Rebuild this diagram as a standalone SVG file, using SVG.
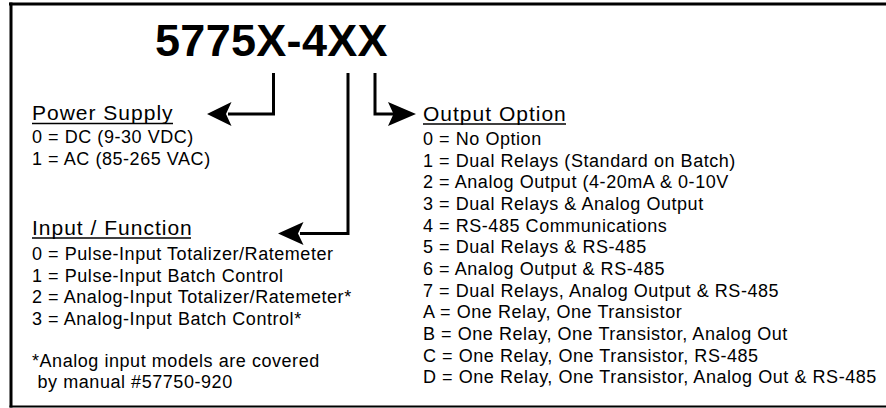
<svg xmlns="http://www.w3.org/2000/svg" width="886" height="408" viewBox="0 0 886 408">
  <style>
    text { font-family: "Liberation Sans", Arial, Helvetica, sans-serif; fill: #000; }
    .title { font-size: 45px; font-weight: bold; letter-spacing: 0.3px; }
    .head { font-size: 21px; letter-spacing: 1px; }
    .item { font-size: 18px; letter-spacing: 0.55px; }
    .uline { stroke: #000; stroke-width: 1.3; }
    .conn { fill: none; stroke: #000; stroke-width: 3; stroke-linejoin: miter; stroke-linecap: butt; }
    .head-arrow { fill: #000; stroke: none; }
    .frame { stroke: #000; fill: none; }
  </style>

  <rect x="0" y="0" width="886" height="408" fill="#fff"/>

  <g id="frame">
    <line class="frame" x1="9" y1="4" x2="886" y2="4" stroke-width="3"/>
    <line class="frame" x1="11" y1="2.5" x2="11" y2="407.5" stroke-width="3"/>
    <line class="frame" x1="9.5" y1="406.5" x2="886" y2="406.5" stroke-width="2"/>
  </g>

  <g id="title">
    <text class="title" x="155" y="56">5775X-4XX</text>
  </g>

  <g id="connectors">
    <path class="conn" d="M273.5 73 V114 H228"/>
    <path class="head-arrow" d="M207 114 L231.5 102 L226 114 L231.5 126 Z"/>
    <path class="conn" d="M348 73 V233.5 H300"/>
    <path class="head-arrow" d="M278 233.5 L303.5 222 L298 233.5 L303.5 245 Z"/>
    <path class="conn" d="M375 73 V114 H394"/>
    <path class="head-arrow" d="M416 114 L388 102 L393.5 114 L388 126 Z"/>
  </g>

  <g id="power-supply">
    <text class="head" x="32" y="120">Power Supply</text>
    <line class="uline" x1="32" y1="123.5" x2="173" y2="123.5"/>
    <text class="item" x="32" y="143">0 = DC (9-30 VDC)</text>
    <text class="item" x="32" y="164.6">1 = AC (85-265 VAC)</text>
  </g>

  <g id="input-function">
    <text class="head" x="32" y="235">Input / Function</text>
    <line class="uline" x1="32" y1="238" x2="191" y2="238"/>
    <text class="item" x="32" y="260">0 = Pulse-Input Totalizer/Ratemeter</text>
    <text class="item" x="32" y="281.5">1 = Pulse-Input Batch Control</text>
    <text class="item" x="32" y="303">2 = Analog-Input Totalizer/Ratemeter*</text>
    <text class="item" x="32" y="324.5">3 = Analog-Input Batch Control*</text>
    <text class="item" x="32" y="366.5">*Analog input models are covered</text>
    <text class="item" x="32" y="388" xml:space="preserve"> by manual #57750-920</text>
  </g>

  <g id="output-option">
    <text class="head" x="423" y="120.5">Output Option</text>
    <line class="uline" x1="423" y1="124" x2="566" y2="124"/>
    <text class="item" x="423" y="145">0 = No Option</text>
    <text class="item" x="423" y="166.7">1 = Dual Relays (Standard on Batch)</text>
    <text class="item" x="423" y="188.3">2 = Analog Output (4-20mA &amp; 0-10V</text>
    <text class="item" x="423" y="210">3 = Dual Relays &amp; Analog Output</text>
    <text class="item" x="423" y="231.6">4 = RS-485 Communications</text>
    <text class="item" x="423" y="253.3">5 = Dual Relays &amp; RS-485</text>
    <text class="item" x="423" y="275">6 = Analog Output &amp; RS-485</text>
    <text class="item" x="423" y="296.6">7 = Dual Relays, Analog Output &amp; RS-485</text>
    <text class="item" x="423" y="318.3">A = One Relay, One Transistor</text>
    <text class="item" x="423" y="340">B = One Relay, One Transistor, Analog Out</text>
    <text class="item" x="423" y="361.6">C = One Relay, One Transistor, RS-485</text>
    <text class="item" x="423" y="383.3">D = One Relay, One Transistor, Analog Out &amp; RS-485</text>
  </g>
</svg>
